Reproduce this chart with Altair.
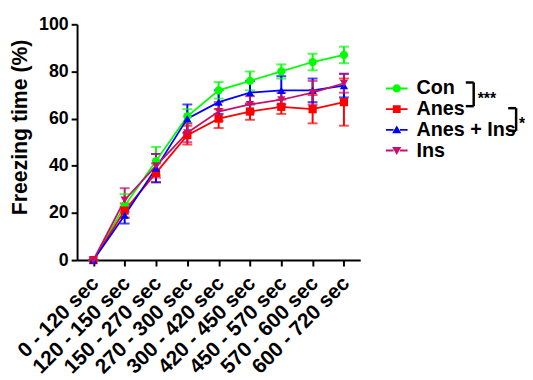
import altair as alt
import pandas as pd

intervals = ["0 - 120 sec", "120 - 150 sec", "150 - 270 sec", "270 - 300 sec",
             "300 - 420 sec", "420 - 450 sec", "450 - 570 sec", "570 - 600 sec",
             "600 - 720 sec"]
groups = ["Con", "Anes", "Anes + Ins", "Ins"]
colors = ["#00FF00", "#FF0000", "#0000FF", "#C8106A"]

con_mean = [0, 23, 42, 61, 72, 76, 80, 84, 87]
con_err = [0, 5, 6, 3, 3.5, 4, 3, 3.5, 3.5]
anes_mean = [0, 21, 37, 53, 60, 63, 65, 64, 67]
anes_err = [0, 3, 4, 4, 4, 3.5, 3, 6, 10]
anesins_mean = [0, 19, 39, 60, 67, 71, 72, 72, 74]
anesins_err = [0, 3.5, 6, 6, 5, 5, 6, 5, 5]
ins_mean = [0, 25.5, 40, 54, 63, 66, 68, 71, 75]
ins_err = [0, 5, 5, 4, 4, 3.5, 3, 5, 4]

means = [con_mean, anes_mean, anesins_mean, ins_mean]
errs = [con_err, anes_err, anesins_err, ins_err]

rows = []
for g, m, e in zip(groups, means, errs):
    for i, (mv, ev) in enumerate(zip(m, e)):
        rows.append({"group": g, "interval": intervals[i], "order": i,
                     "mean": mv, "lo": mv - ev, "hi": mv + ev})
df = pd.DataFrame(rows)

FONT = "Liberation Sans"
W, H = 287, 239

x_enc = alt.X("interval:N", sort=intervals,
              scale=alt.Scale(type="point", padding=0.52),
              axis=alt.Axis(title=None, labelAngle=-45, labelAlign="right",
                            labelBaseline="middle", labelFontSize=21,
                            labelPadding=14, labelOffset=2))
y_scale = alt.Scale(domain=[0, 100])
color_scale = alt.Scale(domain=groups, range=colors)

base = alt.Chart(df)

err_rule = base.mark_rule(strokeWidth=2).encode(
    x=x_enc,
    y=alt.Y("lo:Q", scale=y_scale,
            axis=alt.Axis(values=[0, 20, 40, 60, 80, 100],
                          title="Freezing time (%)", titleFontSize=21.5,
                          labelFontSize=18, titleX=-46, titleY=104,
                          labelPadding=3)),
    y2="hi:Q",
    color=alt.Color("group:N", scale=color_scale, legend=None),
)
cap_lo = base.mark_tick(size=10, thickness=2).encode(
    x=x_enc, y=alt.Y("lo:Q", scale=y_scale),
    color=alt.Color("group:N", scale=color_scale, legend=None))
cap_hi = base.mark_tick(size=10, thickness=2).encode(
    x=x_enc, y=alt.Y("hi:Q", scale=y_scale),
    color=alt.Color("group:N", scale=color_scale, legend=None))
lines = base.mark_line(strokeWidth=1.8).encode(
    x=x_enc, y=alt.Y("mean:Q", scale=y_scale),
    color=alt.Color("group:N", scale=color_scale, legend=None),
    order="order:Q")
points = base.mark_point(filled=True, size=70, opacity=1).encode(
    x=x_enc, y=alt.Y("mean:Q", scale=y_scale),
    color=alt.Color("group:N", scale=color_scale, legend=None),
    shape=alt.Shape("group:N", scale=alt.Scale(
        domain=groups,
        range=["circle", "square", "triangle-up", "triangle-down"]),
        legend=None))

# legend symbols: marker with a short line through it
seg = "M-1,-0.09H-0.3V0.09H-1Z M0.3,-0.09H1V0.09H0.3Z "
leg_paths = [
    seg + "M0.38,0 A0.38,0.38 0 1,1 -0.38,0 A0.38,0.38 0 1,1 0.38,0 Z",
    seg + "M-0.36,-0.36H0.36V0.36H-0.36Z",
    seg + "M0,-0.4L0.42,0.32H-0.42Z",
    seg + "M0,0.4L0.42,-0.32H-0.42Z",
]
leg = alt.Legend(title=None, orient="none", legendX=313, legendY=54,
                 labelFontSize=20, labelFont=FONT, labelFontWeight="bold",
                 labelColor="black", symbolSize=484, symbolStrokeWidth=0,
                 labelOffset=9, rowPadding=0, padding=0)
legend_layer = base.transform_filter("datum.mean < 0").mark_point(
    filled=True, opacity=1).encode(
    x=x_enc, y=alt.Y("mean:Q", scale=y_scale),
    color=alt.Color("group:N", scale=color_scale, legend=leg),
    shape=alt.Shape("group:N", scale=alt.Scale(domain=groups, range=leg_paths),
                    legend=leg))

one = pd.DataFrame({"a": [0]})


def seg_rule(x1, x2, y1, y2):
    return alt.Chart(one).mark_rule(color="black", strokeWidth=2.5).encode(
        x=alt.value(x1), x2=alt.value(x2), y=alt.value(y1), y2=alt.value(y2))


def star(text, xv, yv):
    return alt.Chart(one).mark_text(
        text=text, align="left", baseline="alphabetic", font=FONT,
        fontWeight="bold", fontSize=16, color="black").encode(
        x=alt.value(xv), y=alt.value(yv))


annots = [
    seg_rule(402, 402, 59, 83), seg_rule(394, 402, 59, 59), seg_rule(394, 402, 83, 83),
    star("***", 406, 81),
    seg_rule(445, 445, 85, 108), seg_rule(437, 445, 85, 85), seg_rule(437, 445, 108, 108),
    star("*", 448, 106),
]

chart = alt.layer(err_rule, cap_lo, cap_hi, lines, points, legend_layer, *annots).resolve_scale(
    shape="independent", color="independent"
).properties(
    width=W, height=H,
    autosize=alt.AutoSizeParams(type="none"),
    padding={"left": 70, "top": 14, "right": 167, "bottom": 118},
).configure_view(stroke=None).configure_axis(
    grid=False, domainColor="black", domainWidth=2, tickColor="black",
    tickWidth=2, tickSize=6, labelFont=FONT, labelFontWeight="bold",
    labelColor="black", titleFont=FONT, titleFontWeight="bold",
    titleColor="black",
)

chart.save("out.html", embed_options={"renderer": "svg", "actions": False})
